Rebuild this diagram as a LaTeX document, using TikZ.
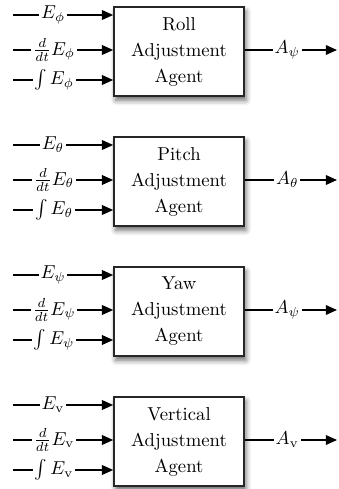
\documentclass[tikz,border=0pt]{standalone}
\usetikzlibrary{arrows.meta,shadows.blur}

\begin{document}
\begin{tikzpicture}[x=0.535pt, y=-0.535pt,
  agentbox/.style={draw=black!85, line width=0.9pt, fill=white,
    minimum width=69.55pt, minimum height=47.6pt, inner sep=0pt,
    align=center, font=\fontsize{10}{13.9}\selectfont,
    blur shadow={shadow xshift=1pt, shadow yshift=-2.2pt,
      shadow blur radius=2.8pt, shadow opacity=60}},
  sig/.style={-{Triangle[length=6pt,width=5.2pt]}, line width=0.75pt},
  siglabel/.style={fill=white, inner sep=1pt}
]
\useasboundingbox (0,0) rectangle (338,489);

\foreach \name/\title/\sub/\out [count=\i from 0] in
  {roll/Roll/\phi/\psi, pitch/Pitch/\theta/\theta,
   yaw/Yaw/\psi/\psi, vert/Vertical/\mathrm{v}/\mathrm{v}} {
  \pgfmathsetmacro\cy{51.5+130*\i}
  % agent block
  \node[agentbox] (\name) at (179,\cy) {\title\\Adjustment\\Agent};
  % error inputs
  \coordinate (\name-i1) at (13,\cy-36.5);
  \coordinate (\name-i2) at (13,\cy-1.5);
  \coordinate (\name-i3) at (13,\cy+28.5);
  \draw[sig] (\name-i1) -- node[siglabel,pos=0.4] {$E_{\sub}$} (\name-i1 -| \name.west);
  \draw[sig] (\name-i2) -- node[siglabel,pos=0.41] {$\frac{d}{dt}E_{\sub}$} (\name-i2 -| \name.west);
  \draw[sig] (\name-i3) -- node[siglabel,pos=0.41] {$\int E_{\sub}$} (\name-i3 -| \name.west);
  % adjustment output
  \coordinate (\name-o) at (337,\cy-1.5);
  \draw[sig] (\name.east |- \name-o) -- node[siglabel,pos=0.46] {$A_{\out}$} (\name-o);
}
\end{tikzpicture}
\end{document}
